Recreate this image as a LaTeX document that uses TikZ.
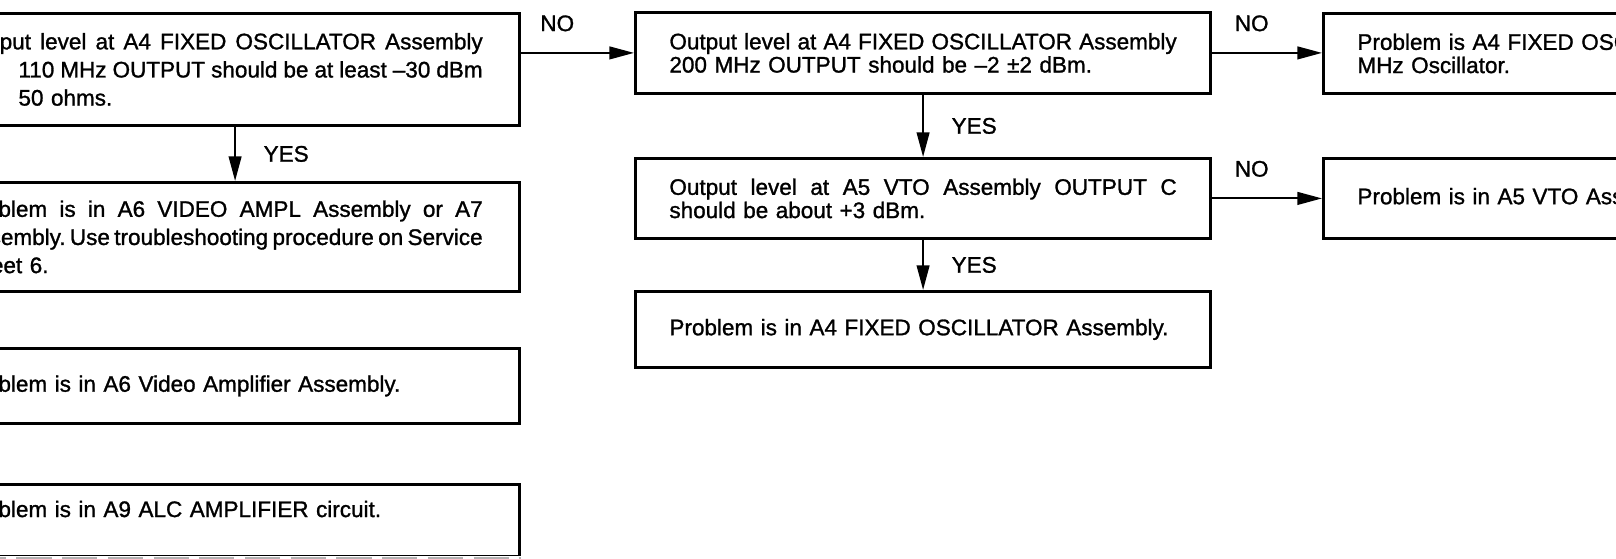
\documentclass[tikz,border=0pt]{standalone}
\usepackage{fontspec}
\setmainfont{Liberation Sans}[FakeBold=1.2]
\usetikzlibrary{arrows.meta,positioning}
\setlength{\parindent}{0pt}
% justified lines: middle/right boxes, left boxes, left boxes indented
\newcommand{\wsp}{\spaceskip=0.28em plus 1fil minus 0.1em\xspaceskip=\spaceskip}
\newcommand{\jm}[1]{\makebox[5.07cm][s]{\wsp #1}}
\newcommand{\jl}[1]{\makebox[5.19cm][s]{\wsp #1}}
\newcommand{\jli}[1]{\hspace*{0.55cm}\makebox[4.64cm][s]{\wsp #1}}

\begin{document}
\begin{tikzpicture}[x=0.01cm, y=-0.01cm,
  font=\fontsize{6.4}{6.6}\selectfont,
  box/.style={draw, line width=0.8pt, anchor=north west, inner xsep=0.34cm,
    inner ysep=0pt, align=left, text width=5.07cm},
  lbox/.style={box, inner xsep=0.37cm, text width=5.19cm,
    font=\fontsize{6.4}{8}\selectfont},
  arr/.style={-{Triangle[length=7pt,width=3.6pt]}, line width=0.6pt},
  lbl/.style={inner sep=1pt}]
\useasboundingbox (0,0) rectangle (1616,559);
\clip (0,0) rectangle (1616,559);
% Left column
\node[lbox, minimum height=1.12cm] (l1) at (-75,12)
  {\jl{Output level at A4 FIXED OSCILLATOR Assembly}\\
   \jli{110 MHz OUTPUT should be at least –30 dBm}\\
   \hspace*{0.55cm}50 ohms.};
\node[lbox, minimum height=1.09cm] (l2) at (-75,181)
  {\jl{Problem is in A6 VIDEO AMPL Assembly or A7}\\
   \jl{Assembly. Use troubleshooting procedure on Service}\\
   Sheet 6.};
\node[lbox, minimum height=0.75cm] (l3) at (-75,347)
  {Problem is in A6 Video Amplifier Assembly.};
\node[lbox, minimum height=0.72cm, text depth=0.23cm] (l4) at (-75,483)
  {Problem is in A9 ALC AMPLIFIER circuit.};
% faint bottom edge of the last box
\draw[white, line width=1pt] (l4.south west) -- (l4.south east);
\draw[gray!60, line width=0.6pt, dash pattern=on 10pt off 3pt] (l4.south west) -- (l4.south east);
% Middle column
\node[box, minimum height=0.81cm] (m1) at (634,11)
  {\jm{Output level at A4 FIXED OSCILLATOR Assembly}\\
   200 MHz OUTPUT should be –2 ±2 dBm.};
\node[box, minimum height=0.80cm] (m2) at (634,157)
  {\jm{Output level at A5 VTO Assembly OUTPUT C}\\
   should be about +3 dBm.};
\node[box, minimum height=0.76cm] (m3) at (634,290)
  {Problem is in A4 FIXED OSCILLATOR Assembly.};
% Right column
\node[box, minimum height=0.80cm] (r1) at (1322,12)
  {Problem is A4 FIXED OSCILLATOR\\
   MHz Oscillator.};
\node[box, minimum height=0.80cm] (r2) at (1322,157)
  {Problem is in A5 VTO Assembly.};
% Connectors
\draw[arr] ([xshift=0.12cm]l1.south) -- node[lbl, right=0.24cm] {YES}
  ([xshift=0.12cm]l2.north);
\draw[arr] (m1.west -| l1.east) -- node[lbl, pos=0.32, above=0.17cm] {NO} (m1.west);
\draw[arr] (m1) -- node[lbl, right=0.24cm] {YES} (m2);
\draw[arr] (m2) -- node[lbl, right=0.24cm] {YES} (m3);
\draw[arr] (m1.east) -- node[lbl, pos=0.36, above=0.17cm] {NO} (m1.east -| r1.west);
\draw[arr] (m2.east) -- node[lbl, pos=0.36, above=0.17cm] {NO} (m2.east -| r2.west);
\end{tikzpicture}
\end{document}
